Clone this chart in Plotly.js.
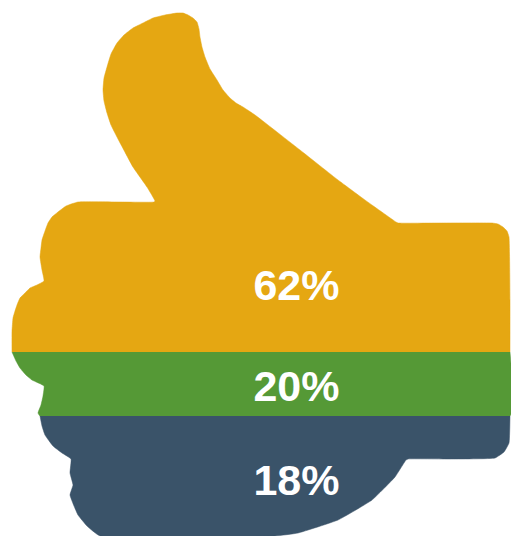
<!DOCTYPE html>
<html><head><meta charset="utf-8">
<script src="https://cdn.plot.ly/plotly-3.0.1.min.js"></script>
<style>html,body{margin:0;padding:0;background:#fff}#c{width:511px;height:536px}</style>
</head><body><div id="c"></div>
<script>
const shares = [62, 20, 18];
const bandColors = ['#E5A712', '#559936', '#3A5369'];
const labelX = [296.5, 296.5, 296.5];
const labelY = [289, 390, 484];

const goldX = [12,12,13,15,17,20,25,30,37,44,42,40,41,42,45,48,52,58,66,78,120,154,155,147,133,117,111,107,104,103,104,107,111,117,124,133,143,153,165,177,183,188,193,197,199,200,202,205,210,217,223,230,236,243,255,300,338,365,396,398,440,492,498,503,507,509,510,510];
const goldY = [352,331,318,311,305,298,293,288,285,281,270,257,248,240,231,223,217,212,206,202,202,202,201,187,167,137,125,113,101,90,78,67,54,43,35,28,23,18,15,13,13,15,18,22,29,37,47,57,69,80,90,98,103,107,115,150,180,200,222,223,223,223,224,227,231,237,300,352];
const greenX = [12,16,20,26,32,44,43,41,38,40,510,510];
const greenY = [352,361,368,375,380,386,396,405,413,416,416,352];
const blueX = [40,42,45,53,62,71,70,73,70,74,78,87,100,275,298,338,372,395,406,408,450,495,504,509,510];
const blueY = [416,426,435,446,453,459,473,485,495,506,515,526,536,536,533,520,500,477,460,459,459,458,452,443,416];

const outlinesX = [goldX, greenX, blueX];
const outlinesY = [goldY, greenY, blueY];

const traces = shares.map((s, i) => ({
  type: 'scatter', mode: 'lines', x: outlinesX[i], y: outlinesY[i],
  fill: 'toself', fillcolor: bandColors[i],
  line: {width: 0.5, color: bandColors[i], shape: 'spline', smoothing: 0.35}, hoverinfo: 'skip', showlegend: false
}));
traces.push({
  type: 'scatter', mode: 'text', x: labelX, y: labelY,
  text: shares.map(s => s + '%'), textposition: 'middle center',
  textfont: {family: '"Liberation Sans", Arial, sans-serif', size: 43, color: '#ffffff', weight: 700},
  hoverinfo: 'skip', showlegend: false
});
Plotly.newPlot('c', traces, {
  width: 511, height: 536, margin: {l: 0, r: 0, t: 0, b: 0},
  paper_bgcolor: '#ffffff', plot_bgcolor: '#ffffff', showlegend: false,
  xaxis: {range: [0, 511], visible: false, fixedrange: true},
  yaxis: {range: [536, 0], visible: false, fixedrange: true}
}, {displayModeBar: false, staticPlot: true});
</script></body></html>
